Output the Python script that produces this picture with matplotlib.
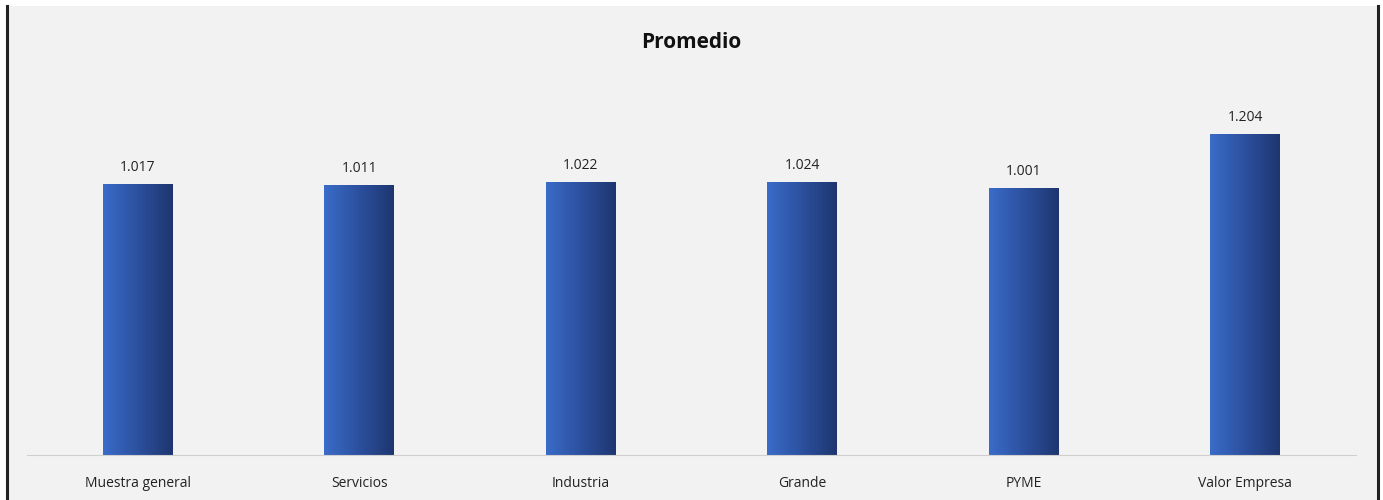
import numpy as np
import matplotlib
matplotlib.use("Agg")
import matplotlib.pyplot as plt
from matplotlib.colors import LinearSegmentedColormap

# datos del grafico
categorias = ["Muestra general", "Servicios", "Industria", "Grande", "PYME", "Valor Empresa"]
valores = [1.017, 1.011, 1.022, 1.024, 1.001, 1.204]
etiquetas = ["1.017", "1.011", "1.022", "1.024", "1.001", "1.204"]

plt.rcParams["font.family"] = ["Open Sans", "DejaVu Sans"]

fig = plt.figure(figsize=(13.83, 5), dpi=100)
fig.patch.set_facecolor("white")

# fondo gris con bordes oscuros a los lados
fig.patches.append(plt.Rectangle((7 / 1383, 0), (1377 - 7) / 1383, 494 / 500,
                                 transform=fig.transFigure, facecolor="#f2f2f2",
                                 edgecolor="none", zorder=-5))
fig.add_artist(plt.Line2D([7 / 1383, 7 / 1383], [0, 494 / 500], color="#222222", lw=2.2, zorder=-4))
fig.add_artist(plt.Line2D([1378 / 1383, 1378 / 1383], [0, 494 / 500], color="#222222", lw=2.2, zorder=-4))

ax = fig.add_axes([27.3 / 1383, 45 / 500, (1355.7 - 27.3) / 1383, (455 - 90) / 500])
ax.set_facecolor("none")
ax.set_zorder(2)

x = np.arange(len(categorias))
ancho = 0.316

# barras con degradado horizontal
cmap = LinearSegmentedColormap.from_list("azul", ["#3a6cc9", "#2c509e", "#1e3670"])
grad = np.linspace(0, 1, 256).reshape(1, -1)
for xi, v, lab in zip(x, valores, etiquetas):
    ax.imshow(grad, cmap=cmap, aspect="auto", interpolation="bicubic",
              extent=(xi - ancho / 2, xi + ancho / 2, 0, v), zorder=2)
    ax.text(xi, v + 0.035, lab, ha="center", va="bottom", fontsize=10, color="#222222")

ax.set_xlim(-0.5, len(categorias) - 0.5)
ax.set_ylim(0, 1.37)
ax.set_xticks(x)
ax.set_xticklabels(categorias, fontsize=10, color="#222222")
ax.tick_params(axis="x", length=0, pad=15)
ax.set_yticks([])
for s in ["top", "right", "left"]:
    ax.spines[s].set_visible(False)
ax.spines["bottom"].set_color("#cfcfcf")

fig.text(0.5, 1 - 42 / 500, "Promedio", ha="center", va="center",
         fontsize=15, fontweight="bold", color="#111111")

fig.savefig("out.png", dpi=100, facecolor=fig.get_facecolor())
